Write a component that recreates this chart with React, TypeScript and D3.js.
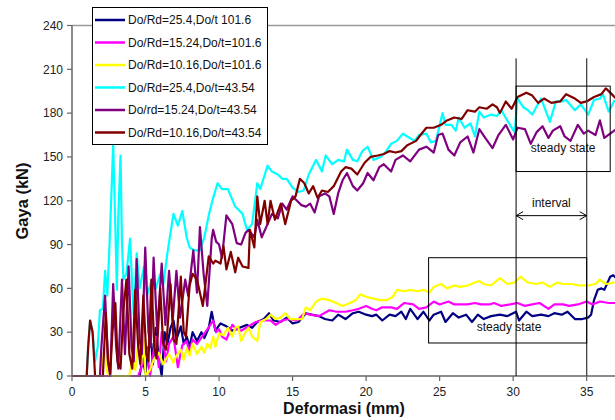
import React from 'react';
import * as d3 from 'd3';

type P = [number, number];

const xTicks = [0, 5, 10, 15, 20, 25, 30, 35];
const yTicks = [0, 30, 60, 90, 120, 150, 180, 210, 240];

const seriesNames = [
  'Do/Rd=25.4,Do/t 101.6',
  'Do/Rd=15.24,Do/t=101.6',
  'Do/Rd=10.16,Do/t=101.6',
  'Do/Rd=25.4,Do/t=43.54',
  'Do/rd=15.24,Do/t=43.54',
  'Do/Rd=10.16,Do/t=43.54',
];
const seriesColors = ['#000080', '#FF00FF', '#FFFF00', '#00FFFF', '#800080', '#800000'];

const navy: P[] = [[0,0],[4.6,0],[4.8,12],[5.0,2],[5.2,20],[5.4,22],[5.5,8],[5.7,33],[5.9,12],[6.1,0],[6.3,30],[6.5,22],[6.7,33],[6.9,38],[7.1,25],[7.4,34],[7.6,22],[7.8,27],[8.0,20],[8.2,30],[8.5,24],[8.8,30],[9.0,26],[9.3,33],[9.5,44],[9.75,31],[10.1,36],[10.5,34],[10.9,31],[11.4,33],[11.9,35],[12.25,33],[12.6,37],[13.05,39],[13.4,43],[13.7,38],[14.2,37],[14.6,40],[15.0,36],[15.4,37],[15.9,43],[16.3,42],[16.8,41],[17.2,39],[17.7,38],[18.1,42],[18.6,39],[19.1,43],[19.5,44],[20.0,42],[20.4,41],[20.7,42],[21.1,38],[21.6,42],[22.0,41],[22.4,44],[22.7,39],[23.0,46],[23.5,39],[23.9,44],[24.3,38],[24.6,42],[25.1,44],[25.4,37],[25.9,43],[26.3,40],[26.8,42],[27.2,37],[27.6,42],[28.0,39],[28.5,41],[29.1,42],[29.6,41],[30.2,44],[30.4,38],[30.9,44],[31.3,41],[31.9,42],[32.4,41],[32.8,43],[33.3,42],[33.7,44],[34.2,39],[34.7,39],[35.1,40],[35.3,42],[35.5,52],[35.75,59],[36.0,60],[36.2,59],[36.6,68],[36.8,69],[37.0,67]];

const magenta: P[] = [[0,0],[4.5,0],[4.8,8],[5.1,18],[5.3,0],[5.7,27],[5.9,6],[6.1,30],[6.4,10],[6.6,22],[6.9,27],[7.2,6],[7.5,21],[7.8,24],[8.0,16],[8.2,25],[8.5,22],[8.85,27],[9.2,32],[9.6,38],[9.8,30],[10.0,32],[10.2,27],[10.5,25],[10.9,35],[11.2,32],[11.5,31],[12.0,34],[12.5,37],[12.9,38],[13.5,38],[13.85,35],[14.3,38],[14.75,39],[15.3,38],[15.8,43],[16.2,42],[16.8,41],[17.5,45],[18.0,44],[18.6,44],[19.1,45],[19.5,46],[20.0,48],[20.4,46],[20.7,45],[21.1,47],[21.7,47],[22.1,46],[22.6,50],[23.2,49],[23.6,46],[24.1,47],[24.6,51],[25.0,49],[25.6,51],[26.0,49],[26.4,49],[26.9,49],[27.4,50],[27.8,49],[28.4,49],[28.7,50],[29.2,48],[29.8,49],[30.3,50],[30.8,48],[31.3,49],[31.8,50],[32.4,46],[32.8,49],[33.4,49],[33.8,48],[34.4,49],[35.0,51],[35.4,49],[35.9,51],[36.5,50],[37.0,50]];

const yellow: P[] = [[0,0],[1.9,0],[2.1,10],[2.2,18],[2.4,2],[2.6,0],[3.9,0],[4.1,14],[4.3,4],[4.5,22],[4.7,8],[4.9,25],[5.0,0],[5.3,4],[5.55,11],[5.9,16],[6.2,8],[6.6,15],[6.9,9],[7.1,14],[7.4,18],[7.6,11],[7.8,19],[8.0,14],[8.2,22],[8.5,15],[8.8,20],[9.0,16],[9.2,22],[9.4,19],[9.6,27],[9.75,20],[10.0,29],[10.3,28],[10.6,33],[10.9,27],[11.1,33],[11.3,34],[11.5,24],[11.8,30],[12.0,33],[12.25,27],[12.6,24],[12.8,37],[13.2,39],[13.5,42],[13.85,39],[14.2,40],[14.5,43],[14.85,39],[15.3,39],[15.65,39],[15.9,47],[16.2,45],[16.6,51],[17.0,53],[17.5,52],[17.95,50],[18.4,48],[18.9,50],[19.3,52],[19.6,56],[19.8,55],[20.1,54],[20.5,53],[21.0,52],[21.4,52],[21.8,54],[22.1,59],[22.6,58],[23.0,59],[23.5,58],[23.9,59],[24.3,57],[24.6,61],[25.1,63],[25.5,60],[26.0,62],[26.4,61],[26.9,62],[27.4,64],[27.7,65],[28.0,63],[28.5,62],[29.1,67],[29.6,63],[30.1,64],[30.5,68],[31.0,64],[31.6,63],[32.0,64],[32.5,61],[33.0,64],[33.4,63],[34.0,63],[34.5,62],[35.1,62],[35.6,63],[35.9,66],[36.3,63],[36.9,64]];

const cyan: P[] = [[0,0],[1.0,0],[1.1,20],[1.23,38],[1.4,30],[1.57,10],[1.75,20],[1.9,45],[2.1,46],[2.25,72],[2.4,55],[2.55,90],[2.7,130],[2.8,159],[2.95,100],[3.05,59],[3.15,110],[3.3,151],[3.4,90],[3.5,66],[3.7,70],[3.95,94],[4.1,60],[4.2,42],[4.4,84],[4.6,60],[4.9,75],[5.1,55],[5.4,65],[5.7,60],[6.0,70],[6.2,62],[6.5,85],[6.9,111],[7.2,103],[7.5,113],[7.8,95],[8.0,88],[8.3,86],[8.7,86],[9.0,95],[9.3,110],[9.6,122],[9.9,132],[10.2,128],[10.6,128],[11.1,116],[11.6,111],[11.9,100],[12.25,104],[12.6,132],[12.8,128],[13.3,144],[13.6,140],[14.0,138],[14.3,135],[14.6,135],[15.0,129],[15.4,126],[15.75,127],[16.1,138],[16.6,148],[17.0,140],[17.25,151],[17.7,145],[18.1,148],[18.5,147],[18.7,155],[19.1,148],[19.4,147],[19.75,154],[20.1,157],[20.5,148],[21.0,150],[21.3,153],[21.7,159],[22.1,161],[22.5,166],[22.8,164],[23.3,161],[23.6,165],[24.1,166],[24.4,160],[24.75,161],[25.2,180],[25.4,172],[25.8,172],[26.1,168],[26.3,177],[26.7,170],[27.1,173],[27.4,164],[27.7,181],[28.0,177],[28.5,179],[28.9,178],[29.2,182],[29.6,175],[29.9,170],[30.1,167],[30.3,190],[30.7,184],[31.0,182],[31.3,179],[31.9,190],[32.2,182],[32.5,174],[32.9,188],[33.3,188],[33.6,189],[34.2,182],[34.6,186],[35.1,179],[35.5,189],[35.9,190],[36.1,193],[36.5,181],[36.9,189]];

const purple: P[] = [[0,0],[1.9,0],[2.0,20],[2.25,55],[2.45,10],[2.6,0],[2.8,63],[3.0,20],[3.15,5],[3.4,66],[3.6,15],[3.85,75],[4.05,20],[4.2,10],[4.4,80],[4.6,25],[4.75,15],[4.98,88],[5.2,30],[5.35,20],[5.55,81],[5.8,30],[6.1,77],[6.35,35],[6.6,72],[6.85,38],[7.1,72],[7.35,40],[7.7,66],[7.9,55],[8.25,86],[8.5,57],[8.7,102],[8.95,70],[9.2,48],[9.5,94],[9.6,100],[9.8,92],[10.0,90],[10.2,81],[10.5,110],[10.9,104],[11.2,91],[11.5,90],[11.8,98],[12.0,100],[12.4,95],[12.6,107],[12.9,95],[13.3,104],[13.6,111],[14.0,108],[14.3,118],[14.6,114],[15.0,123],[15.3,120],[15.6,117],[15.9,116],[16.2,118],[16.5,112],[16.8,123],[17.2,125],[17.5,123],[17.8,111],[18.1,125],[18.4,134],[18.7,139],[19.1,130],[19.4,127],[19.8,132],[20.1,139],[20.5,134],[20.9,143],[21.2,145],[21.7,140],[22.0,148],[22.5,151],[23.0,147],[23.6,155],[24.1,157],[24.6,153],[24.9,165],[25.2,166],[25.6,155],[26.0,151],[26.4,160],[26.9,164],[27.3,153],[27.7,169],[28.1,163],[28.6,156],[29.0,165],[29.5,172],[30.0,162],[30.3,170],[30.8,169],[31.2,159],[31.6,167],[32.0,171],[32.4,163],[32.7,168],[33.2,171],[33.5,164],[33.9,161],[34.4,172],[34.8,166],[35.1,168],[35.6,165],[35.9,175],[36.2,163],[36.6,166],[37.0,169]];

const maroon: P[] = [[0,0],[1.0,0],[1.1,20],[1.23,38],[1.4,30],[1.57,0],[2.1,0],[2.3,43],[2.45,10],[2.6,2],[2.75,30],[2.95,50],[3.1,10],[3.3,5],[3.5,45],[3.7,66],[3.9,15],[4.1,5],[4.3,59],[4.5,20],[4.65,8],[4.85,55],[5.05,15],[5.2,10],[5.4,66],[5.6,20],[5.75,12],[6.0,60],[6.2,22],[6.4,18],[6.7,63],[6.9,25],[7.1,22],[7.4,68],[7.6,30],[7.75,27],[8.0,62],[8.2,70],[8.5,66],[8.9,48],[9.3,82],[9.6,77],[9.75,79],[10.1,77],[10.3,89],[10.5,73],[10.8,85],[11.1,71],[11.3,81],[11.6,75],[12.0,74],[12.1,100],[12.4,88],[12.6,123],[12.8,104],[13.1,120],[13.3,104],[13.5,120],[13.8,107],[14.2,118],[14.5,104],[14.9,120],[15.2,123],[15.5,135],[15.8,132],[16.1,125],[16.4,130],[16.7,122],[17.0,127],[17.4,126],[17.8,130],[18.3,140],[18.6,143],[19.0,142],[19.4,138],[19.9,146],[20.3,150],[20.8,151],[21.2,152],[21.6,154],[22.0,153],[22.4,154],[22.8,158],[23.4,161],[23.7,165],[24.1,170],[24.6,170],[25.1,172],[25.5,175],[26.0,177],[26.5,176],[26.9,182],[27.4,181],[27.7,184],[28.2,183],[28.6,186],[28.9,184],[29.1,180],[29.5,188],[29.9,183],[30.3,191],[30.9,194],[31.3,192],[31.7,187],[32.1,190],[32.6,187],[33.2,188],[33.6,193],[34.2,190],[34.6,187],[35.0,188],[35.5,191],[36.0,193],[36.3,197],[36.7,193],[37.0,190]];

const allSeries = [navy, magenta, yellow, cyan, purple, maroon];

const FONT = 'Liberation Sans, Arial, sans-serif';

export default function App() {
  const W = 615, H = 420;
  const x = d3.scaleLinear().domain([0, 40]).range([72, 72 + 40 * 14.705]);
  const y = d3.scaleLinear().domain([0, 240]).range([376, 25.5]);
  const line = d3.line<P>().x(d => x(d[0])).y(d => y(d[1]));

  const vx1 = x(30.2), vx2 = x(35.0);
  const vTop = y(217.5);
  const ub = { x0: x(30.2), x1: x(36.6), y0: y(198.5), y1: y(140) };
  const lb = { x0: x(24.25), x1: x(35.0), y0: y(81), y1: y(22.6) };
  const ay = y(109.8);

  return (
    <svg width={W} height={H} style={{ position: 'absolute', left: 0, top: 0, background: '#fff' }} fontFamily={FONT}>
      <rect x={0} y={0} width={W} height={H} fill="#fff" />
      <line x1={72} x2={W} y1={y(240)} y2={y(240)} stroke="#9a9a9a" strokeWidth={1.5} />
      <g>
        {allSeries.map((s, i) => (
          <path key={i} d={line(s) || ''} fill="none" stroke={seriesColors[i]} strokeWidth={2.2} strokeLinejoin="round" />
        ))}
      </g>
      <line x1={72} x2={72} y1={y(240)} y2={y(0)} stroke="#666" strokeWidth={1.5} />
      <line x1={72} x2={W} y1={y(0)} y2={y(0)} stroke="#666" strokeWidth={1.5} />
      {yTicks.map(t => (
        <g key={'y' + t}>
          <line x1={67} x2={72} y1={y(t)} y2={y(t)} stroke="#666" strokeWidth={1.2} />
          <text x={63} y={y(t)} dy="0.35em" textAnchor="end" fontSize={12} fill="#222">{t}</text>
        </g>
      ))}
      {xTicks.map(t => (
        <g key={'x' + t}>
          <line x1={x(t)} x2={x(t)} y1={y(0)} y2={y(0) + 5} stroke="#666" strokeWidth={1.2} />
          <text x={x(t)} y={396} textAnchor="middle" fontSize={12} fill="#222">{t}</text>
        </g>
      ))}
      <text x={344} y={414} textAnchor="middle" fontSize={16} fontWeight="bold" fill="#111">Deformasi (mm)</text>
      <text transform={`translate(28,201) rotate(-90)`} textAnchor="middle" fontSize={16.5} fontWeight="bold" fill="#111">Gaya (kN)</text>

      <line x1={vx1} x2={vx1} y1={vTop} y2={y(0)} stroke="#000" strokeWidth={1} />
      <line x1={vx2} x2={vx2} y1={vTop} y2={y(0)} stroke="#444" strokeWidth={1.3} />
      <rect x={ub.x0} y={ub.y0} width={ub.x1 - ub.x0} height={ub.y1 - ub.y0} fill="none" stroke="#000" strokeWidth={1} />
      <text x={(ub.x0 + ub.x1) / 2} y={152} textAnchor="middle" fontSize={12} fill="#111">steady state</text>
      <rect x={lb.x0} y={lb.y0} width={lb.x1 - lb.x0} height={lb.y1 - lb.y0} fill="none" stroke="#000" strokeWidth={1} />
      <text x={509} y={331} textAnchor="middle" fontSize={12} fill="#111">steady state</text>
      <line x1={vx1} x2={vx2} y1={ay} y2={ay} stroke="#000" strokeWidth={1} />
      <path d={`M${vx1 + 7},${ay - 4} L${vx1},${ay} L${vx1 + 7},${ay + 4}`} fill="none" stroke="#000" strokeWidth={1} />
      <path d={`M${vx2 - 7},${ay - 4} L${vx2},${ay} L${vx2 - 7},${ay + 4}`} fill="none" stroke="#000" strokeWidth={1} />
      <text x={(vx1 + vx2) / 2} y={ay - 9} textAnchor="middle" fontSize={12} fill="#111">interval</text>

      <rect x={92.5} y={7.5} width={175} height={137} fill="#fff" stroke="#000" strokeWidth={1} />
      {seriesNames.map((n, i) => {
        const ly = 20 + i * 22.5;
        return (
          <g key={n}>
            <line x1={95} x2={125} y1={ly} y2={ly} stroke={seriesColors[i]} strokeWidth={2.5} />
            <text x={128} y={ly} dy="0.35em" fontSize={12} fill="#111">{n}</text>
          </g>
        );
      })}
    </svg>
  );
}
